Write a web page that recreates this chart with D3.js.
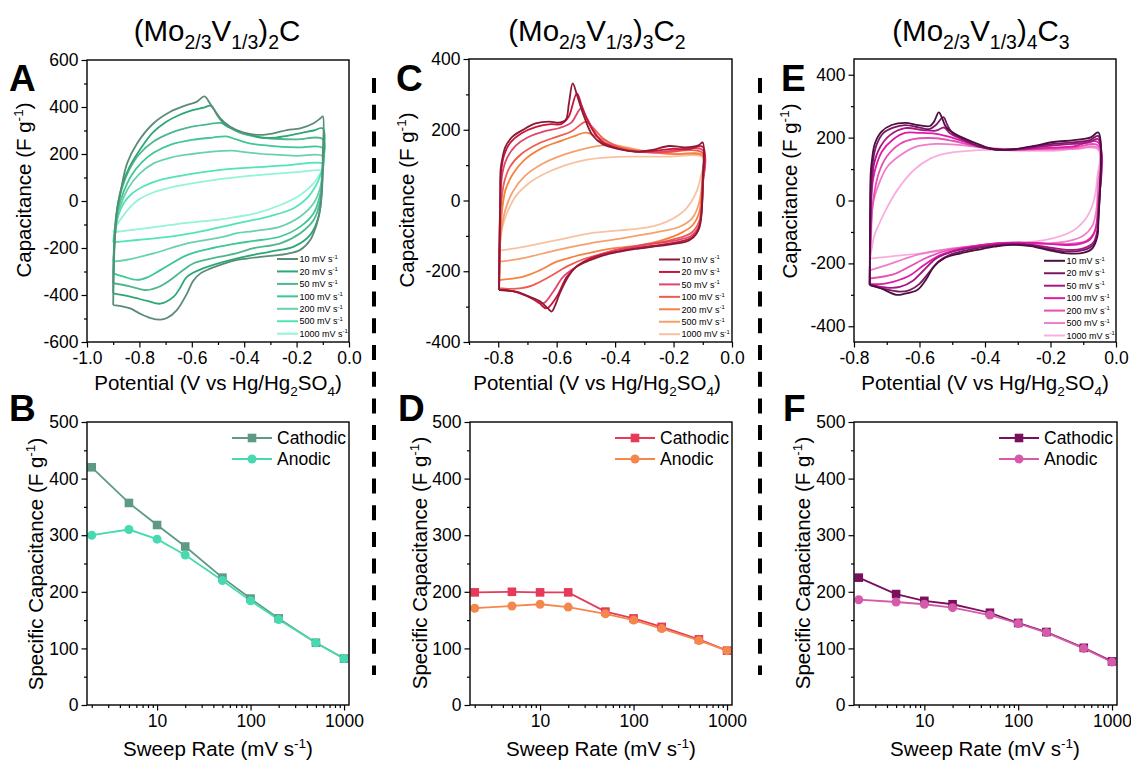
<!DOCTYPE html>
<html><head><meta charset="utf-8">
<script src="https://cdn.jsdelivr.net/npm/d3@7"></script>
<style>
body{margin:0;background:#fff}
svg{display:block}
text{font-family:"Liberation Sans",Arial,Helvetica,sans-serif;fill:#000}
</style>
</head><body>
<svg id="c" width="1131" height="763"></svg>
<script>
// ---------------- DATA ----------------
const sweepLabels = ["10","20","50","100","200","500","1000"];

// Panel A: (Mo2/3V1/3)2C cyclic voltammograms [potential V, capacitance F/g], closed loops
const A10 = [[-0.9,-443],[-0.898,-300],[-0.893,-150],[-0.885,-40],[-0.873,33],[-0.847,160],[-0.809,245],[-0.746,331],[-0.682,380],[-0.618,409],[-0.58,423],[-0.552,445],[-0.527,409],[-0.491,352],[-0.453,316],[-0.402,291],[-0.338,281],[-0.288,288],[-0.237,302],[-0.186,309],[-0.135,331],[-0.109,352],[-0.1,360],
  [-0.1,200],[-0.102,90],[-0.109,-24],[-0.122,-95],[-0.148,-166],[-0.186,-208],[-0.237,-225],[-0.288,-232],[-0.338,-238],[-0.39,-245],[-0.427,-251],[-0.491,-272],[-0.53,-288],[-0.567,-308],[-0.595,-340],[-0.618,-393],[-0.657,-464],[-0.695,-498],[-0.72,-505],[-0.76,-497],[-0.8,-478],[-0.835,-457],[-0.87,-447],[-0.9,-443]];
const A20 = [[-0.9,-393],[-0.898,-250],[-0.893,-110],[-0.882,-10],[-0.865,70],[-0.84,140],[-0.8,215],[-0.75,290],[-0.7,335],[-0.65,365],[-0.6,386],[-0.555,397],[-0.527,405],[-0.5,360],[-0.47,322],[-0.43,300],[-0.38,283],[-0.338,270],[-0.28,270],[-0.237,277],[-0.18,290],[-0.135,300],[-0.1,309],
  [-0.1,150],[-0.103,47],[-0.116,-66],[-0.148,-144],[-0.211,-194],[-0.3,-215],[-0.427,-244],[-0.555,-286],[-0.618,-322],[-0.645,-370],[-0.669,-407],[-0.72,-437],[-0.77,-425],[-0.835,-407],[-0.9,-393]];
const A50 = [[-0.9,-350],[-0.897,-220],[-0.892,-110],[-0.882,-20],[-0.865,60],[-0.84,130],[-0.8,200],[-0.746,253],[-0.68,290],[-0.6,316],[-0.53,328],[-0.49,332],[-0.46,315],[-0.42,292],[-0.37,277],[-0.3,266],[-0.2,262],[-0.1,262],
  [-0.1,150],[-0.103,90],[-0.109,5],[-0.135,-81],[-0.186,-137],[-0.262,-180],[-0.364,-201],[-0.427,-222],[-0.491,-237],[-0.593,-265],[-0.64,-300],[-0.682,-336],[-0.725,-365],[-0.771,-379],[-0.84,-362],[-0.9,-350]];
const A100 = [[-0.9,-308],[-0.897,-220],[-0.891,-120],[-0.88,-30],[-0.86,40],[-0.83,110],[-0.79,165],[-0.746,205],[-0.68,240],[-0.6,260],[-0.52,270],[-0.47,275],[-0.43,262],[-0.38,245],[-0.3,235],[-0.2,228],[-0.1,225],
  [-0.1,150],[-0.103,104],[-0.109,33],[-0.135,-52],[-0.186,-109],[-0.262,-151],[-0.364,-170],[-0.427,-180],[-0.52,-200],[-0.618,-230],[-0.72,-294],[-0.77,-325],[-0.809,-336],[-0.86,-322],[-0.9,-308]];
const A200 = [[-0.9,-258],[-0.896,-180],[-0.888,-100],[-0.872,-20],[-0.845,50],[-0.8,115],[-0.746,160],[-0.68,185],[-0.6,200],[-0.52,210],[-0.45,214],[-0.38,206],[-0.3,198],[-0.2,192],[-0.1,190],
  [-0.102,118],[-0.109,61],[-0.135,-10],[-0.186,-66],[-0.262,-109],[-0.364,-128],[-0.427,-137],[-0.491,-155],[-0.618,-180],[-0.746,-223],[-0.847,-250],[-0.9,-258]];
const A500 = [[-0.9,-176],[-0.893,-120],[-0.88,-60],[-0.86,-10],[-0.83,30],[-0.78,65],[-0.72,90],[-0.618,112],[-0.491,132],[-0.364,143],[-0.237,152],[-0.1,158],
  [-0.105,125],[-0.122,75],[-0.16,12],[-0.211,-31],[-0.3,-64],[-0.427,-95],[-0.555,-127],[-0.682,-152],[-0.809,-166],[-0.9,-176]];
const A1000 = [[-0.9,-133],[-0.885,-100],[-0.86,-60],[-0.83,-20],[-0.8,8],[-0.75,35],[-0.68,58],[-0.6,75],[-0.5,92],[-0.4,105],[-0.3,114],[-0.2,123],[-0.1,130],
  [-0.109,118],[-0.135,75],[-0.186,26],[-0.262,-17],[-0.364,-55],[-0.427,-67],[-0.49,-78],[-0.62,-93],[-0.682,-102],[-0.75,-112],[-0.9,-133]];

// Panel C: (Mo2/3V1/3)3C2
const C10 = [[-0.797,-253],[-0.795,-100],[-0.793,-8],[-0.792,86],[-0.786,119],[-0.775,152],[-0.752,180],[-0.717,199],[-0.672,218],[-0.626,223],[-0.592,220],[-0.569,228],[-0.558,275],[-0.545,331],[-0.529,294],[-0.506,237],[-0.478,185],[-0.444,160],[-0.387,145],[-0.33,138],[-0.273,143],[-0.216,154],[-0.159,150],[-0.113,157],[-0.1,164],
  [-0.1,60],[-0.102,-8],[-0.107,-55],[-0.121,-93],[-0.147,-113],[-0.216,-125],[-0.273,-131],[-0.33,-137],[-0.387,-145],[-0.44,-155],[-0.486,-169],[-0.532,-187],[-0.56,-215],[-0.589,-262],[-0.607,-300],[-0.617,-314],[-0.63,-305],[-0.657,-285],[-0.692,-272],[-0.737,-258],[-0.797,-253]];
const C20 = [[-0.797,-253],[-0.795,-80],[-0.793,0],[-0.79,80],[-0.78,128],[-0.76,162],[-0.72,190],[-0.67,208],[-0.62,216],[-0.585,216],[-0.56,235],[-0.531,303],[-0.515,270],[-0.495,228],[-0.47,190],[-0.44,163],[-0.39,147],[-0.33,138],[-0.27,140],[-0.2,146],[-0.15,145],[-0.1,152],
  [-0.1,50],[-0.104,-30],[-0.113,-80],[-0.14,-106],[-0.2,-120],[-0.3,-131],[-0.4,-145],[-0.48,-162],[-0.53,-185],[-0.566,-216],[-0.6,-272],[-0.635,-305],[-0.66,-290],[-0.69,-275],[-0.74,-258],[-0.797,-253]];
const C50 = [[-0.797,-252],[-0.795,-80],[-0.792,20],[-0.785,80],[-0.77,120],[-0.74,155],[-0.7,178],[-0.64,196],[-0.59,205],[-0.55,220],[-0.517,260],[-0.5,238],[-0.475,200],[-0.445,168],[-0.39,148],[-0.33,138],[-0.25,137],[-0.2,141],[-0.1,142],
  [-0.1,40],[-0.104,-20],[-0.113,-72],[-0.14,-100],[-0.2,-114],[-0.3,-125],[-0.4,-140],[-0.47,-158],[-0.532,-187],[-0.578,-216],[-0.612,-258],[-0.646,-291],[-0.675,-280],[-0.737,-258],[-0.797,-252]];
const C100 = [[-0.797,-248],[-0.794,-100],[-0.79,-10],[-0.78,50],[-0.76,95],[-0.72,132],[-0.66,162],[-0.6,180],[-0.55,195],[-0.5,222],[-0.475,205],[-0.44,175],[-0.39,152],[-0.33,140],[-0.25,135],[-0.1,134],
  [-0.1,50],[-0.104,-10],[-0.113,-60],[-0.14,-92],[-0.2,-110],[-0.3,-126],[-0.4,-140],[-0.45,-152],[-0.509,-166],[-0.566,-187],[-0.623,-215],[-0.68,-239],[-0.72,-248],[-0.76,-250],[-0.797,-248]];
const C200 = [[-0.797,-225],[-0.793,-110],[-0.787,-30],[-0.775,30],[-0.75,75],[-0.71,115],[-0.65,148],[-0.58,170],[-0.53,185],[-0.5,192],[-0.46,180],[-0.42,163],[-0.37,148],[-0.3,138],[-0.2,131],[-0.1,128],
  [-0.1,80],[-0.104,20],[-0.113,-36],[-0.135,-70],[-0.17,-90],[-0.238,-112],[-0.315,-126],[-0.429,-138],[-0.486,-148],[-0.543,-159],[-0.6,-173],[-0.657,-197],[-0.714,-215],[-0.797,-225]];
const C500 = [[-0.797,-173],[-0.79,-90],[-0.775,-25],[-0.75,25],[-0.71,68],[-0.65,103],[-0.58,128],[-0.51,145],[-0.45,155],[-0.41,157],[-0.36,150],[-0.3,140],[-0.2,132],[-0.1,126],
  [-0.1,77],[-0.113,-8],[-0.136,-50],[-0.181,-75],[-0.261,-90],[-0.315,-98],[-0.4,-110],[-0.486,-121],[-0.6,-140],[-0.714,-163],[-0.797,-173]];
const C1000 = [[-0.797,-142],[-0.792,-102],[-0.775,-46],[-0.741,11],[-0.695,49],[-0.638,77],[-0.569,100],[-0.5,115],[-0.421,122],[-0.33,124],[-0.216,124],[-0.1,122],
  [-0.107,67],[-0.124,20],[-0.159,-25],[-0.2,-50],[-0.25,-68],[-0.315,-79],[-0.486,-93],[-0.6,-112],[-0.714,-131],[-0.797,-142]];

// Panel E: (Mo2/3V1/3)4C3
const E10 = [[-0.752,-269],[-0.751,-72],[-0.749,86],[-0.744,139],[-0.736,182],[-0.716,219],[-0.685,240],[-0.644,247],[-0.604,240],[-0.568,237],[-0.556,250],[-0.541,280],[-0.531,262],[-0.52,235],[-0.492,212],[-0.451,192],[-0.4,171],[-0.373,163],[-0.311,163],[-0.25,174],[-0.19,186],[-0.128,192],[-0.077,201],[-0.054,216],
  [-0.054,-72],[-0.057,-115],[-0.072,-152],[-0.098,-166],[-0.149,-168],[-0.2,-159],[-0.261,-145],[-0.322,-141],[-0.373,-147],[-0.423,-157],[-0.474,-168],[-0.525,-184],[-0.556,-210],[-0.581,-253],[-0.607,-285],[-0.647,-297],[-0.67,-300],[-0.719,-279],[-0.752,-269]];
const E20 = [[-0.752,-268],[-0.75,-60],[-0.747,80],[-0.74,140],[-0.73,180],[-0.71,215],[-0.68,232],[-0.644,240],[-0.6,232],[-0.57,227],[-0.55,240],[-0.527,265],[-0.515,240],[-0.5,215],[-0.46,192],[-0.42,173],[-0.37,163],[-0.31,163],[-0.25,172],[-0.19,180],[-0.13,185],[-0.08,192],[-0.054,205],
  [-0.054,-60],[-0.057,-105],[-0.07,-142],[-0.1,-158],[-0.15,-162],[-0.2,-155],[-0.26,-143],[-0.32,-140],[-0.38,-145],[-0.44,-155],[-0.5,-170],[-0.54,-192],[-0.57,-228],[-0.6,-265],[-0.63,-285],[-0.66,-290],[-0.7,-283],[-0.752,-268]];
const E50 = [[-0.752,-267],[-0.749,-50],[-0.745,60],[-0.738,120],[-0.72,170],[-0.69,208],[-0.644,230],[-0.59,224],[-0.55,222],[-0.525,232],[-0.505,212],[-0.46,190],[-0.42,172],[-0.37,162],[-0.31,162],[-0.25,168],[-0.19,175],[-0.13,180],[-0.08,186],[-0.054,195],
  [-0.054,-50],[-0.058,-100],[-0.07,-135],[-0.1,-152],[-0.15,-157],[-0.2,-150],[-0.26,-140],[-0.32,-137],[-0.38,-142],[-0.44,-150],[-0.5,-163],[-0.55,-185],[-0.59,-225],[-0.62,-255],[-0.66,-275],[-0.7,-277],[-0.752,-267]];
const E100 = [[-0.752,-266],[-0.749,-60],[-0.745,40],[-0.735,100],[-0.715,155],[-0.68,195],[-0.644,215],[-0.6,215],[-0.55,212],[-0.5,200],[-0.45,182],[-0.4,168],[-0.34,162],[-0.28,163],[-0.2,168],[-0.13,172],[-0.054,185],
  [-0.055,-30],[-0.062,-90],[-0.08,-125],[-0.12,-140],[-0.18,-140],[-0.24,-135],[-0.3,-133],[-0.36,-136],[-0.42,-143],[-0.48,-155],[-0.535,-173],[-0.586,-205],[-0.627,-237],[-0.678,-258],[-0.71,-265],[-0.752,-266]];
const E200 = [[-0.752,-248],[-0.748,-80],[-0.74,10],[-0.725,85],[-0.7,140],[-0.66,180],[-0.62,195],[-0.55,198],[-0.5,190],[-0.45,178],[-0.4,168],[-0.34,162],[-0.28,162],[-0.2,165],[-0.13,168],[-0.054,175],
  [-0.055,0],[-0.058,-60],[-0.068,-105],[-0.09,-128],[-0.14,-138],[-0.2,-138],[-0.27,-135],[-0.33,-135],[-0.4,-140],[-0.47,-150],[-0.53,-163],[-0.58,-183],[-0.63,-210],[-0.68,-235],[-0.752,-248]];
const E500 = [[-0.752,-222],[-0.748,-120],[-0.742,-10],[-0.725,50],[-0.7,105],[-0.665,139],[-0.614,170],[-0.55,180],[-0.48,177],[-0.4,168],[-0.3,162],[-0.2,162],[-0.12,164],[-0.054,167],
  [-0.056,40],[-0.06,-30],[-0.072,-80],[-0.1,-112],[-0.15,-130],[-0.22,-137],[-0.3,-139],[-0.4,-143],[-0.48,-150],[-0.535,-158],[-0.596,-170],[-0.647,-186],[-0.698,-205],[-0.752,-222]];
const E1000 = [[-0.752,-185],[-0.745,-150],[-0.739,-115],[-0.708,-41],[-0.668,33],[-0.617,97],[-0.566,134],[-0.518,150],[-0.45,158],[-0.393,161],[-0.29,158],[-0.19,158],[-0.054,161],
  [-0.057,76],[-0.067,2],[-0.088,-51],[-0.128,-94],[-0.19,-120],[-0.291,-136],[-0.393,-145],[-0.495,-155],[-0.596,-168],[-0.698,-179],[-0.752,-185]];

// Specific capacitance vs sweep rate
const rates = [2,5,10,20,50,100,200,500,1000];
const B_cathodic = [420,357,318,280,225,188,153,110,82];
const B_anodic   = [300,310,293,265,220,184,151,110,82];
const D_cathodic = [199,200,199,199,165,153,138,116,96];
const D_anodic   = [171,175,178,173,161,150,135,114,96];
const F_cathodic = [225,196,184,178,163,145,129,101,77];
const F_anodic   = [186,182,178,172,159,144,128,100,76];

// Tick labels
const xTicksA = [-1.0,-0.8,-0.6,-0.4,-0.2,0.0];
const xTicksCE = [-0.8,-0.6,-0.4,-0.2,0.0];
const yTicksA = [-600,-400,-200,0,200,400,600];
const yTicksCE = [-400,-200,0,200,400];
const yTicksRate = [0,100,200,300,400,500];
const xTicksRate = [10,100,1000];

// Colours
const colA = ["#5b8c78","#2ba873","#4cb88e","#3dc894","#69d2ad","#52e3b6","#92f4da"];
const colC = ["#8c1a34","#c9143b","#e0456e","#ee5b50","#f5823f","#f6a16d","#f8c2a1"];
const colE = ["#4d0e40","#7c1764","#a61583","#dd1ba6","#e450b4","#f07dcb","#f8afde"];

// ---------------- DRAWING ----------------
const svg = d3.select("#c");
const FS_TICK = 17.5, FS_TITLE = 20.5, FS_HEAD = 29.5;

function rich(g, x, y, parts, size, anchor, rot, weight) {
  const t = g.append("text").attr("x", x).attr("y", y).attr("font-size", size)
    .attr("text-anchor", anchor || "middle");
  if (weight) t.attr("font-weight", weight);
  if (rot) t.attr("transform", `rotate(${rot},${x},${y})`);
  let off = 0;
  parts.forEach(([s, m]) => {
    const target = m === 1 ? size * 0.28 : m === 2 ? -size * 0.38 : 0;
    const ts = t.append("tspan").text(s).attr("dy", target - off);
    if (m) ts.attr("font-size", size * 0.66);
    off = target;
  });
  return t;
}
const fmt1 = v => (Math.abs(v) < 1e-9 ? 0 : v).toFixed(1);
const fmtInt = v => String(v);

function frameAxes(g, x, y, box, opt) {
  const {x0, y0, w, h} = box;
  const gxm = g.append("g").attr("transform", `translate(0,${y0 + h})`)
    .call(d3.axisBottom(x).tickValues(opt.xMinor).tickSize(3).tickFormat(""));
  const gym = g.append("g").attr("transform", `translate(${x0},0)`)
    .call(d3.axisLeft(y).tickValues(opt.yMinor).tickSize(3).tickFormat(""));
  const gx = g.append("g").attr("transform", `translate(0,${y0 + h})`)
    .call(d3.axisBottom(x).tickValues(opt.xTicks).tickSize(5.5).tickPadding(4).tickFormat(opt.xFmt));
  const gy = g.append("g").attr("transform", `translate(${x0},0)`)
    .call(d3.axisLeft(y).tickValues(opt.yTicks).tickSize(5.5).tickPadding(3).tickFormat(opt.yFmt));
  [gxm, gym, gx, gy].forEach(a => {
    a.select(".domain").remove();
    a.selectAll(".tick line").attr("stroke", "#000").attr("stroke-width", 1.2);
    a.selectAll(".tick text").attr("font-size", FS_TICK)
      .attr("font-family", '"Liberation Sans",Arial,sans-serif').attr("fill", "#000");
  });
  g.append("rect").attr("x", x0).attr("y", y0).attr("width", w).attr("height", h)
    .attr("fill", "none").attr("stroke", "#000").attr("stroke-width", 1.4);
}

function cvPanel(cfg) {
  const g = svg.append("g");
  const {box} = cfg;
  const x = d3.scaleLinear().domain(cfg.xd).range([box.x0, box.x0 + box.w]);
  const y = d3.scaleLinear().domain(cfg.yd).range([box.y0 + box.h, box.y0]);
  const line = d3.line().x(d => x(d[0])).y(d => y(d[1])).curve(d3.curveCatmullRom.alpha(0.5));
  const plot = g.append("g");
  cfg.curves.slice().reverse().forEach((c, i) => {
    const k = cfg.curves.length - 1 - i;
    plot.append("path").attr("d", line(c)).attr("fill", "none")
      .attr("stroke", cfg.colors[k]).attr("stroke-width", 1.8).attr("stroke-linejoin", "round");
  });
  frameAxes(g, x, y, box, {
    xTicks: cfg.xTicks, xMinor: cfg.xMinor, yTicks: cfg.yTicks, yMinor: cfg.yMinor,
    xFmt: fmt1, yFmt: fmtInt
  });
  const L = cfg.leg;
  sweepLabels.forEach((s, i) => {
    const yy = L.y + i * 12.45;
    g.append("line").attr("x1", L.x).attr("x2", L.x + 21).attr("y1", yy).attr("y2", yy)
      .attr("stroke", cfg.colors[i]).attr("stroke-width", 2);
    rich(g, L.x + 22.5, yy + 3.2, [[s + " mV s", 0], ["-1", 2]], 9, "start");
  });
  rich(g, cfg.xTitle[0], cfg.xTitle[1], [["Potential (V vs Hg/Hg", 0], ["2", 1], ["SO", 0], ["4", 1], [")", 0]], FS_TITLE, "middle");
  rich(g, cfg.yTitle[0], cfg.yTitle[1], [["Capacitance (F g", 0], ["-1", 2], [")", 0]], FS_TITLE, "middle", -90);
  rich(g, cfg.head[0], cfg.head[1], cfg.headParts, FS_HEAD, "middle");
  g.append("text").attr("x", cfg.letter[0]).attr("y", cfg.letter[1]).attr("font-size", 37)
    .attr("font-weight", "bold").text(cfg.letter[2]);
}

function drawSym(g, sym, cx, cy, col) {
  if (sym === "sq") g.append("rect").attr("x", cx - 4.3).attr("y", cy - 4.3).attr("width", 8.6).attr("height", 8.6).attr("fill", col);
  else g.append("circle").attr("cx", cx).attr("cy", cy).attr("r", 4.5).attr("fill", col);
}

function ratePanel(cfg) {
  const g = svg.append("g");
  const {box} = cfg;
  const x = d3.scaleLog().domain([1.78, 1130]).range([box.x0, box.x0 + box.w]);
  const y = d3.scaleLinear().domain([0, 500]).range([box.y0 + box.h, box.y0]);
  const minor = [];
  [1, 10, 100].forEach(d => [2,3,4,5,6,7,8,9].forEach(m => { if (d * m >= 1.78 && d * m <= 1130) minor.push(d * m); }));
  const line = d3.line().x((d, i) => x(rates[i])).y(d => y(d));
  const series = [
    {vals: cfg.cath, col: cfg.colC, sym: "sq"},
    {vals: cfg.anod, col: cfg.colA, sym: "ci"}
  ];
  series.forEach(s => {
    g.append("path").attr("d", line(s.vals)).attr("fill", "none").attr("stroke", s.col).attr("stroke-width", 1.8);
  });
  series.forEach(s => {
    s.vals.forEach((v, i) => drawSym(g, s.sym, x(rates[i]), y(v), s.col));
  });
  frameAxes(g, x, y, box, {
    xTicks: xTicksRate, xMinor: minor, yTicks: yTicksRate, yMinor: d3.range(50, 500, 100),
    xFmt: fmtInt, yFmt: fmtInt
  });
  const L = cfg.leg;
  [["Cathodic", series[0]], ["Anodic", series[1]]].forEach(([lab, s], i) => {
    const yy = L.y + i * 21;
    g.append("line").attr("x1", L.x).attr("x2", L.x + 40).attr("y1", yy).attr("y2", yy)
      .attr("stroke", s.col).attr("stroke-width", 1.8);
    drawSym(g, s.sym, L.x + 20, yy, s.col);
    g.append("text").attr("x", L.x + 45).attr("y", yy + 6.2).attr("font-size", 17.5).text(lab);
  });
  rich(g, cfg.xTitle[0], cfg.xTitle[1], [["Sweep Rate (mV s", 0], ["-1", 2], [")", 0]], FS_TITLE, "middle");
  rich(g, cfg.yTitle[0], cfg.yTitle[1], [["Specific Capacitance (F g", 0], ["-1", 2], [")", 0]], FS_TITLE, "middle", -90);
  g.append("text").attr("x", cfg.letter[0]).attr("y", cfg.letter[1]).attr("font-size", 37)
    .attr("font-weight", "bold").text(cfg.letter[2]);
}

const minor01 = (a, b) => d3.range(Math.round(a * 10), Math.round(b * 10) + 1).map(v => v / 10).filter(v => Math.round(v * 10) % 2 !== 0);

cvPanel({
  box: {x0: 87, y0: 60, w: 262, h: 282}, xd: [-1, 0], yd: [-600, 600],
  curves: [A10, A20, A50, A100, A200, A500, A1000], colors: colA,
  xTicks: xTicksA, xMinor: minor01(-1, 0), yTicks: yTicksA, yMinor: d3.range(-500, 600, 200),
  leg: {x: 277, y: 259}, xTitle: [218, 390], yTitle: [31, 190],
  head: [217, 41], headParts: [["(Mo",0],["2/3",1],["V",0],["1/3",1],[")",0],["2",1],["C",0]],
  letter: [9, 91, "A"]
});
cvPanel({
  box: {x0: 469, y0: 59, w: 263, h: 283}, xd: [-0.9, 0], yd: [-400, 400],
  curves: [C10, C20, C50, C100, C200, C500, C1000], colors: colC,
  xTicks: xTicksCE, xMinor: minor01(-0.9, 0), yTicks: yTicksCE, yMinor: d3.range(-300, 400, 200),
  leg: {x: 659, y: 259.5}, xTitle: [597, 390], yTitle: [414, 200],
  head: [597, 41], headParts: [["(Mo",0],["2/3",1],["V",0],["1/3",1],[")",0],["3",1],["C",0],["2",1]],
  letter: [396, 91, "C"]
});
cvPanel({
  box: {x0: 854, y0: 59, w: 262, h: 283}, xd: [-0.8, 0], yd: [-450, 450],
  curves: [E10, E20, E50, E100, E200, E500, E1000], colors: colE,
  xTicks: xTicksCE, xMinor: minor01(-0.8, 0), yTicks: yTicksCE, yMinor: d3.range(-300, 400, 200),
  leg: {x: 1044, y: 260.8}, xTitle: [985, 390], yTitle: [797, 191],
  head: [981, 41], headParts: [["(Mo",0],["2/3",1],["V",0],["1/3",1],[")",0],["4",1],["C",0],["3",1]],
  letter: [781, 91, "E"]
});

ratePanel({box: {x0: 87, y0: 422, w: 262, h: 283}, cath: B_cathodic, anod: B_anodic,
  colC: "#5e9a83", colA: "#47dab0", leg: {x: 232, y: 438}, xTitle: [218, 756], yTitle: [43, 564], letter: [9, 421, "B"]});
ratePanel({box: {x0: 470, y0: 422, w: 262, h: 283}, cath: D_cathodic, anod: D_anodic,
  colC: "#e63a5b", colA: "#f4874b", leg: {x: 615, y: 438}, xTitle: [601, 756], yTitle: [427, 563], letter: [398, 421, "D"]});
ratePanel({box: {x0: 854, y0: 422, w: 263, h: 283}, cath: F_cathodic, anod: F_anodic,
  colC: "#7a0f5e", colA: "#d65aaa", leg: {x: 999, y: 438}, xTitle: [985, 756], yTitle: [810, 563], letter: [783, 421, "F"]});

// dashed separators
[374, 760].forEach(xx => {
  svg.append("line").attr("x1", xx).attr("x2", xx).attr("y1", 78).attr("y2", 675)
    .attr("stroke", "#000").attr("stroke-width", 4).attr("stroke-dasharray", "15,11.7");
});
</script>
</body></html>
